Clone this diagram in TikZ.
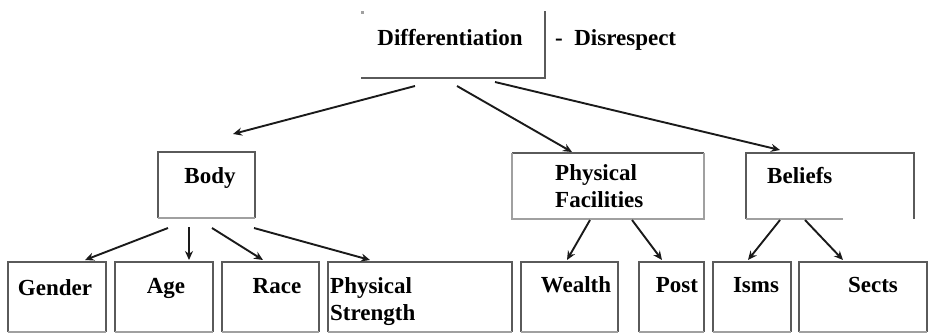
\documentclass[tikz,border=0pt]{standalone}
\usepackage{fontspec}
\setmainfont{Liberation Serif}
\usetikzlibrary{arrows.meta,calc}
\definecolor{boxgray}{HTML}{5A5A5A}
\definecolor{litegray}{HTML}{A0A0A0}
\definecolor{arrowgray}{HTML}{1A1A1A}
\begin{document}
\begin{tikzpicture}[x=1pt,y=-1pt,
  box/.style={draw=none,inner sep=0pt,outer sep=0pt},
  edge/.style={draw=boxgray,line width=1.8pt},
  lite/.style={draw=litegray,line width=1.8pt},
  lbl/.style={inner sep=0pt,anchor=base,font=\fontsize{23}{27}\selectfont\bfseries},
  lbll/.style={lbl,anchor=base west},
  arr/.style={draw=arrowgray,line width=1.9pt,-{Stealth[length=9pt,width=8pt]}}]
\useasboundingbox (0,0) rectangle (928,333);
\fill[white] (0,0) rectangle (928,333);

% ---- boxes (outlines are drawn edge by edge below)
\node[box,minimum width=184pt,minimum height=67pt] (diff)    at (453,44.5) {};
\node[box,minimum width=97pt, minimum height=66pt] (body)    at (206.5,185) {};
\node[box,minimum width=192pt,minimum height=66pt] (phys)    at (608,186) {};
\node[box,minimum width=168pt,minimum height=66pt] (beliefs) at (830,186) {};
\node[box,minimum width=98pt, minimum height=70pt] (gender)  at (57,297) {};
\node[box,minimum width=98pt, minimum height=70pt] (age)     at (164,297) {};
\node[box,minimum width=97pt, minimum height=70pt] (race)    at (270.5,297) {};
\node[box,minimum width=184pt,minimum height=70pt] (strength) at (420,297) {};
\node[box,minimum width=97pt, minimum height=70pt] (wealth)  at (569.5,297) {};
\node[box,minimum width=65pt, minimum height=70pt] (post)    at (671.5,297) {};
\node[box,minimum width=78pt, minimum height=70pt] (isms)    at (752,297) {};
\node[box,minimum width=128pt,minimum height=70pt] (sects)   at (863,297) {};

% Differentiation: right and bottom edges, plus a corner dot
\draw[edge] (diff.north east) -- (diff.south east) -- (diff.south west);
\fill[litegray] (diff.north west) rectangle ++(2.5,2.5);

% Body
\draw[edge] (body.south west) -- (body.north west) -- (body.north east) -- (body.south east);
\draw[lite] (body.south west) -- (body.south east);

% Physical Facilities
\draw[edge] (phys.north west) -- (phys.north east);
\draw[lite] (phys.north west) -- (phys.south west) -- (phys.south east) -- (phys.north east);

% Beliefs: open along the lower right
\draw[edge] (beliefs.south west) -- (beliefs.north west) -- (beliefs.north east) -- (beliefs.south east);
\draw[lite] (beliefs.south west) -- ($(beliefs.south west)+(97,0)$);

% Lower row
\foreach \b in {gender,age,race,strength,wealth,post,isms,sects}{
  \draw[edge] (\b.south west) -- (\b.north west) -- (\b.north east) -- (\b.south east);
  \draw[lite] (\b.south west) -- (\b.south east);
}

% ---- labels
\node[lbl]  (tdiff) at (450,45) {Differentiation};
\node[lbll] (tdis)  at (555,45) {-\ \ Disrespect};
\node[lbl]  (tbody) at (210,183) {Body};
\node[lbll] (tphys) at (555,180) {Physical};
\node[lbll] (tfac)  at (555,207) {Facilities};
\node[lbll] (tbel)  at (767,183) {Beliefs};
\node[lbl]  (tgen)  at (55,295) {Gender};
\node[lbl]  (tage)  at (166,293) {Age};
\node[lbl]  (trace) at (277,293) {Race};
\node[lbll] (tps1)  at (330,293) {Physical};
\node[lbll] (tps2)  at (330,320) {Strength};
\node[lbl]  (twea)  at (576,292) {Wealth};
\node[lbl]  (tpost) at (677,292) {Post};
\node[lbl]  (tisms) at (756,292) {Isms};
\node[lbl]  (tsect) at (873,292) {Sects};

% ---- connectors
\draw[arr] ($(diff.south west)+(54,8)$)  -- ($(body.north west)+(75,-18)$);
\draw[arr] ($(diff.south west)+(96,8)$)  -- ($(phys.north west)+(60,-1)$);
\draw[arr] ($(diff.south west)+(134,4)$) -- ($(beliefs.north west)+(34,-3)$);

\draw[arr] ($(body.south west)+(10,10)$) -- ($(gender.north west)+(77,-2)$);
\draw[arr] ($(body.south west)+(31,9)$)  -- ($(age.north west)+(74,-2)$);
\draw[arr] ($(body.south west)+(54,10)$) -- ($(race.north west)+(41,-2)$);
\draw[arr] ($(body.south west)+(96,10)$) -- ($(strength.north west)+(42,-2)$);

\draw[arr] ($(phys.south west)+(78,1)$)  -- ($(wealth.north west)+(46,-2)$);
\draw[arr] ($(phys.south west)+(120,1)$) -- ($(post.north west)+(23,-2)$);

\draw[arr] ($(beliefs.south west)+(34,1)$) -- ($(isms.north west)+(35,-2)$);
\draw[arr] ($(beliefs.south west)+(59,1)$) -- ($(sects.north west)+(44,-2)$);
\end{tikzpicture}
\end{document}
